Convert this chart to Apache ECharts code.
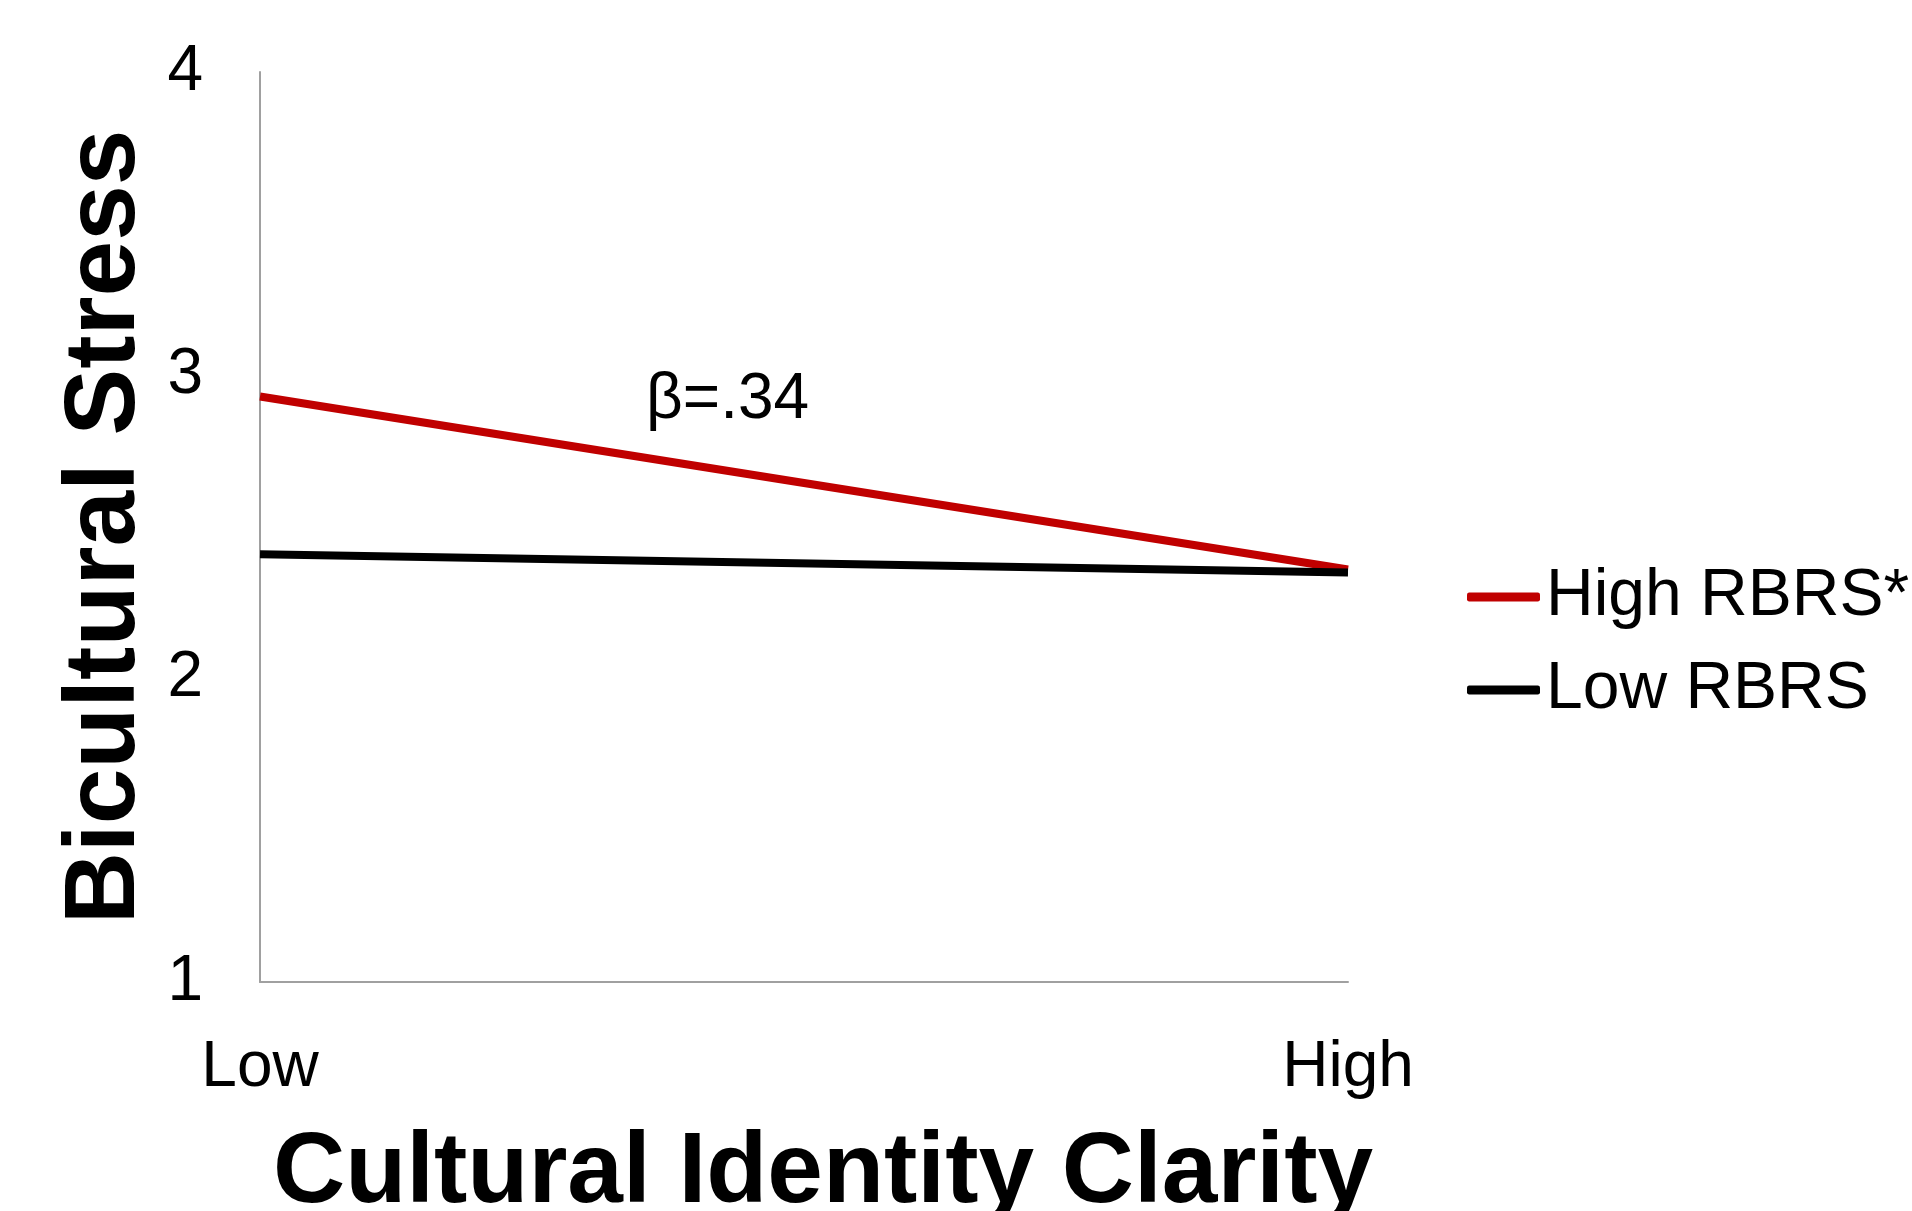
<!DOCTYPE html>
<html>
<head>
<meta charset="utf-8">
<script src="https://cdn.jsdelivr.net/npm/echarts@6/dist/echarts.min.js"></script>
<style>
html,body{margin:0;padding:0;background:#fff;}
#chart{width:1912px;height:1211px;}
</style>
</head>
<body>
<div id="chart"></div>
<script>
var categories = ['Low', 'High'];
var highRBRS = [2.93, 2.36];
var lowRBRS = [2.41, 2.35];
var seriesNames = ['High RBRS*', 'Low RBRS'];
var yTicks = [1, 2, 3, 4];
var annotation = 'β=.34';

var FONT = '"Liberation Sans", Arial, sans-serif';
var chart = echarts.init(document.getElementById('chart'));
chart.setOption({
  animation: false,
  backgroundColor: '#fff',
  grid: { left: 260, right: 564, top: 72, bottom: 229, containLabel: false, outerBoundsMode: 'none' },
  xAxis: {
    type: 'category',
    data: categories,
    boundaryGap: false,
    axisLine: { lineStyle: { color: '#a0a0a0', width: 2 } },
    axisTick: { show: false },
    axisLabel: { color: '#000', fontSize: 64, fontFamily: FONT, margin: 54 },
    name: 'Cultural Identity Clarity',
    nameLocation: 'middle',
    nameGap: 142,
    nameTextStyle: { color: '#000', fontSize: 100, fontWeight: 'bold', fontFamily: FONT, padding: [0, 0, 0, 38] }
  },
  yAxis: {
    type: 'value',
    min: yTicks[0],
    max: yTicks[yTicks.length - 1],
    interval: 1,
    splitLine: { show: false },
    axisLine: { show: true, lineStyle: { color: '#a0a0a0', width: 2 } },
    axisTick: { show: false },
    axisLabel: { color: '#000', fontSize: 64, fontFamily: FONT, margin: 57 },
    name: 'Bicultural Stress',
    nameLocation: 'middle',
    nameGap: 104,
    nameTextStyle: { color: '#000', fontSize: 100, fontWeight: 'bold', fontFamily: FONT }
  },
  legend: {
    orient: 'vertical',
    left: 1462,
    top: 559,
    icon: 'roundRect',
    itemWidth: 73,
    itemHeight: 9,
    itemGap: 27,
    textStyle: { color: '#000', fontSize: 66, fontFamily: FONT, padding: [0, 0, 0, 1] },
    data: seriesNames
  },
  series: [
    {
      name: seriesNames[0],
      type: 'line',
      data: highRBRS,
      symbol: 'none',
      lineStyle: { color: '#c00000', width: 8 },
      itemStyle: { color: '#c00000' }
    },
    {
      name: seriesNames[1],
      type: 'line',
      data: lowRBRS,
      symbol: 'none',
      lineStyle: { color: '#000000', width: 8 },
      itemStyle: { color: '#000000' }
    }
  ],
  graphic: [
    {
      type: 'text',
      left: 646,
      top: 368,
      style: { text: annotation, fill: '#000', font: '64px ' + FONT }
    }
  ]
});
</script>
</body>
</html>
